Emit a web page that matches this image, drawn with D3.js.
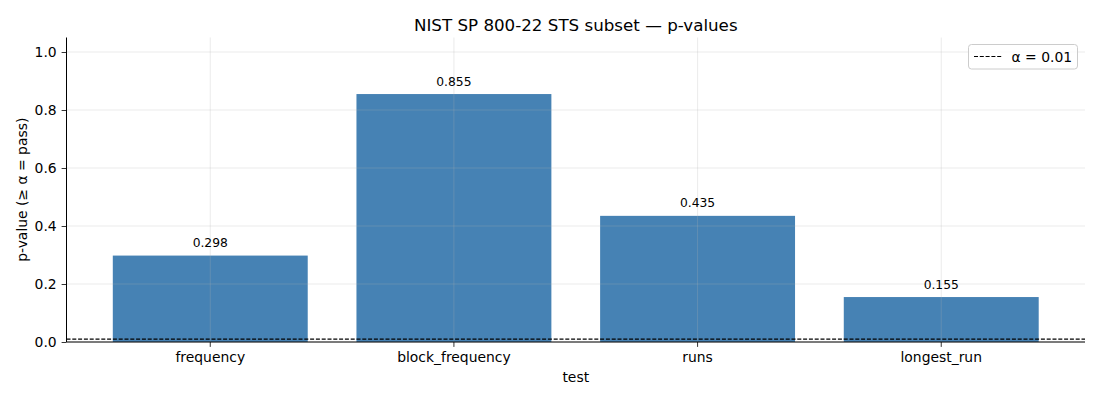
<!DOCTYPE html>
<html>
<head>
<meta charset="utf-8">
<script src="https://cdn.jsdelivr.net/npm/d3@7"></script>
<style>
  body { margin: 0; background: #fff; }
  svg { font-family: "DejaVu Sans", sans-serif; }
</style>
</head>
<body>
<svg width="1100" height="400"></svg>
<script>
const tests = ['frequency', 'block_frequency', 'runs', 'longest_run'];
const pValues = [0.298, 0.855, 0.435, 0.155];
const yTicks = [0.0, 0.2, 0.4, 0.6, 0.8, 1.0];
const alpha = 0.01;

const margin = { left: 66.5, right: 1085, top: 37.5, bottom: 342 };

const svg = d3.select('svg');

const x = d3
  .scaleBand()
  .domain(tests)
  .range([margin.left, margin.right])
  .paddingInner(0.2)
  .paddingOuter(0.19);

const y = d3
  .scaleLinear()
  .domain([0, 1.05])
  .range([margin.bottom, margin.top]);

// bars
svg.append('g')
  .selectAll('rect')
  .data(tests)
  .enter()
  .append('rect')
  .attr('x', d => x(d))
  .attr('width', x.bandwidth())
  .attr('y', (d, i) => y(pValues[i]))
  .attr('height', (d, i) => y(0) - y(pValues[i]))
  .attr('fill', '#4682b4');

// grid on top of bars, faded
const grid = svg.append('g')
  .attr('stroke', '#b0b0b0')
  .attr('stroke-opacity', 0.33)
  .attr('stroke-width', 0.8);

grid.selectAll('line.h')
  .data(yTicks)
  .enter()
  .append('line')
  .attr('x1', margin.left)
  .attr('x2', margin.right)
  .attr('y1', d => y(d))
  .attr('y2', d => y(d));

grid.selectAll('line.v')
  .data(tests)
  .enter()
  .append('line')
  .attr('x1', d => x(d) + x.bandwidth() / 2)
  .attr('x2', d => x(d) + x.bandwidth() / 2)
  .attr('y1', margin.top)
  .attr('y2', margin.bottom);

// alpha threshold
svg.append('line')
  .attr('x1', margin.left)
  .attr('x2', margin.right)
  .attr('y1', y(alpha))
  .attr('y2', y(alpha))
  .attr('stroke', '#000')
  .attr('stroke-width', 1.1)
  .attr('stroke-dasharray', '4,1.8');

// bar labels
svg.append('g')
  .selectAll('text')
  .data(tests)
  .enter()
  .append('text')
  .attr('x', d => x(d) + x.bandwidth() / 2)
  .attr('y', (d, i) => y(pValues[i]) - 8.5)
  .attr('text-anchor', 'middle')
  .attr('font-size', 12.3)
  .attr('fill', '#000')
  .text((d, i) => pValues[i].toFixed(3));

// axes
const xAxis = svg.append('g')
  .attr('transform', `translate(0,${margin.bottom})`)
  .call(d3.axisBottom(x).tickSizeOuter(0).tickSize(4.9).tickPadding(4.9));

const yAxis = svg.append('g')
  .attr('transform', `translate(${margin.left},0)`)
  .call(d3.axisLeft(y).tickValues(yTicks).tickFormat(d3.format('.1f')).tickSizeOuter(0).tickSize(4.9).tickPadding(4.9));

[xAxis, yAxis].forEach(a => {
  a.selectAll('text').attr('font-size', 13.9).attr('fill', '#000').attr('font-family', '"DejaVu Sans", sans-serif');
  a.selectAll('line').attr('stroke', '#000').attr('stroke-width', 0.8);
  a.select('.domain').attr('stroke', '#000').attr('stroke-width', 1);
});
xAxis.select('.domain').attr('d', `M${margin.left},0H${margin.right}`);
yAxis.select('.domain').attr('d', `M0,${margin.bottom}V${margin.top}`);

// titles
svg.append('text')
  .attr('x', (margin.left + margin.right) / 2)
  .attr('y', 30.5)
  .attr('text-anchor', 'middle')
  .attr('font-size', 16.7)
  .text('NIST SP 800-22 STS subset — p-values');

svg.append('text')
  .attr('x', (margin.left + margin.right) / 2)
  .attr('y', 382)
  .attr('text-anchor', 'middle')
  .attr('font-size', 13.9)
  .text('test');

svg.append('text')
  .attr('transform', `translate(27,${(margin.top + margin.bottom) / 2}) rotate(-90)`)
  .attr('text-anchor', 'middle')
  .attr('font-size', 13.9)
  .text('p-value (≥ α = pass)');

// legend
const lg = svg.append('g').attr('transform', 'translate(968.5,44.5)');
lg.append('rect')
  .attr('width', 109)
  .attr('height', 24.5)
  .attr('rx', 3)
  .attr('fill', '#fff')
  .attr('fill-opacity', 0.8)
  .attr('stroke', '#ccc')
  .attr('stroke-width', 1);
lg.append('line')
  .attr('x1', 5.5)
  .attr('x2', 33.5)
  .attr('y1', 12)
  .attr('y2', 12)
  .attr('stroke', '#000')
  .attr('stroke-width', 1.1)
  .attr('stroke-dasharray', '4,1.8');
lg.append('text')
  .attr('x', 43)
  .attr('y', 17)
  .attr('font-size', 13.9)
  .text(`α = ${alpha}`);
</script>
</body>
</html>
